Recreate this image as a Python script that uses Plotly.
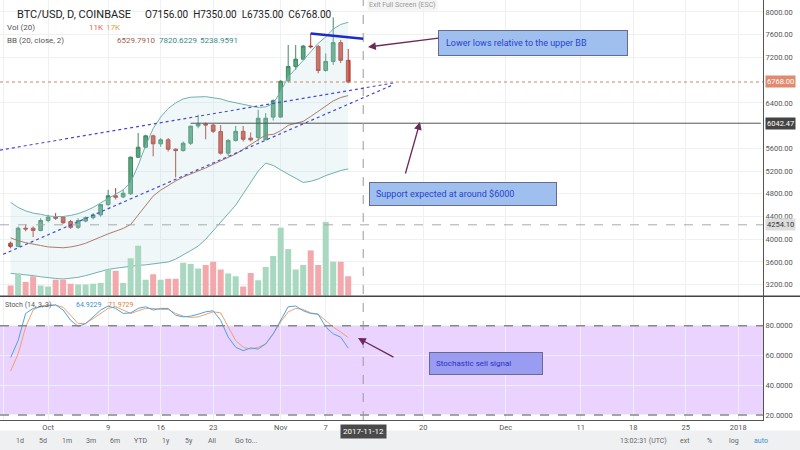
import pandas as pd
import plotly.graph_objects as go

# daily candles, 2017-09-26 .. 2017-11-10
dates = pd.date_range("2017-09-26", periods=46, freq="D")
opn = [3930, 3875, 4195, 4195, 4155, 4330, 4390, 4390, 4312, 4210, 4320, 4380, 4430, 4610, 4765, 4745, 4800, 5445, 5620, 5820, 5680, 5750,
       5585, 5560, 5690, 5995, 6030, 6010, 5895, 5515, 5740, 5900, 5780, 5790, 5750, 6150, 6150, 6790, 7040, 7170, 7400, 7390, 6970, 7130, 7460, 7150]
cls = [3875, 4195, 4180, 4155, 4330, 4390, 4370, 4290, 4210, 4330, 4380, 4430, 4610, 4765, 4740, 4810, 5445, 5620, 5820, 5680, 5750, 5585,
       5560, 5690, 5990, 6030, 6010, 5900, 5515, 5740, 5900, 5760, 5750, 6130, 6130, 6440, 6780, 7040, 7170, 7400, 7390, 6970, 7130, 7460, 7150, 6768]
hig = [3960, 4225, 4255, 4225, 4370, 4430, 4460, 4410, 4340, 4370, 4400, 4460, 4620, 4870, 4900, 4870, 5455, 5870, 5840, 5840, 5780, 5780,
       5600, 5720, 6000, 6190, 6055, 6030, 6010, 5760, 5995, 5995, 5880, 6280, 6220, 6460, 6800, 7420, 7420, 7420, 7625, 7420, 7270, 7905, 7510, 7350]
low = [3840, 3860, 4140, 4040, 4140, 4300, 4340, 4270, 4180, 4180, 4300, 4350, 4400, 4590, 4700, 4725, 4780, 5430, 5600, 5460, 5630, 5545,
       5090, 5545, 5660, 5955, 5760, 5870, 5490, 5460, 5720, 5720, 5720, 5720, 6070, 6090, 6410, 6760, 6980, 7150, 7360, 6920, 6950, 7070, 7100, 6745]
vol = [3.9, 8.5, 5.2, 7.4, 3.9, 3.5, 6.1, 6.1, 4.6, 4.3, 4.3, 4.6, 4.8, 10.0, 9.5, 4.8, 14.3, 19.1, 6.1, 8.2, 6.1, 6.5, 6.5, 12.6, 12.1, 10.4, 11.7,
       13.0, 10.0, 8.5, 7.4, 3.5, 8.7, 5.9, 11.0, 15.2, 26.0, 17.8, 10.0, 11.7, 17.3, 11.7, 28.2, 13.0, 13.0, 7.4]
bb_upper = [4650, 4560, 4500, 4460, 4440, 4410, 4400, 4400, 4420, 4450, 4500, 4560, 4640, 4720, 4800, 4870, 5000, 5300, 5650, 5950, 6150, 6300, 6400,
            6470, 6500, 6510, 6510, 6490, 6470, 6430, 6400, 6370, 6340, 6320, 6330, 6390, 6600, 6860, 7000, 7150, 7300, 7450, 7560, 7700, 7780, 7820]
bb_lower = [3400, 3390, 3380, 3360, 3340, 3320, 3310, 3300, 3310, 3330, 3360, 3400, 3440, 3470, 3490, 3510, 3520, 3540, 3550, 3570, 3580, 3600, 3650,
            3720, 3800, 3880, 4000, 4150, 4300, 4450, 4600, 4800, 5000, 5200, 5340, 5300, 5220, 5150, 5070, 5000, 5020, 5060, 5120, 5170, 5210, 5238]
stoch_k = [58.6, 70, 88.2, 91.6, 92.7, 93.2, 93.9, 90.5, 83.6, 79.5, 81.4, 85.9, 90.5, 93.2, 91.6, 88.2, 88.6, 91.6, 92.7, 90.5, 91.6, 91.6, 87,
           85.9, 86.4, 87.7, 89.3, 90, 83.6, 72.3, 65.5, 63.2, 65, 64.3, 67.7, 74.5, 83.6, 92.7, 93.2, 90, 88.2, 87.7, 79.1, 74.5, 72.3, 64.9]
stoch_d = [49.5, 61, 79, 90.5, 93.2, 93.9, 93.9, 92.3, 87, 81.4, 81.4, 84.8, 88.2, 91.6, 92.7, 90.5, 88.2, 90, 91.6, 91.6, 90.9, 90.9, 88.2,
           86.4, 85.5, 85.9, 87.7, 89.3, 88.6, 79.1, 70, 65.5, 64.3, 65.5, 67.7, 74.5, 82.5, 89.3, 91.6, 90.9, 88.6, 87.7, 83.6, 79.1, 75.7, 72.0]
price_ticks = [3200, 3600, 4000, 4400, 4800, 5200, 5600, 6400, 7200, 7600, 8000]

bb_mid = [(u + l) / 2 for u, l in zip(bb_upper, bb_lower)]
up = [c >= o for o, c in zip(opn, cls)]
vol_col = ["#a8d8c0" if u else "#f3a9ab" for u in up]

GRID = "#eef0f3"
fig = go.Figure()

fig.add_trace(go.Scatter(x=dates, y=bb_upper, mode="lines", line=dict(color="#70b0b0", width=1), yaxis="y", xaxis="x"))
fig.add_trace(go.Scatter(x=dates, y=bb_lower, mode="lines", line=dict(color="#70b0b0", width=1), fill="tonexty",
                         fillcolor="rgba(190,225,230,0.25)", yaxis="y", xaxis="x"))
fig.add_trace(go.Scatter(x=dates, y=bb_mid, mode="lines", line=dict(color="#b07b6a", width=1), yaxis="y", xaxis="x"))
fig.add_trace(go.Bar(x=dates, y=vol, marker=dict(color=vol_col, line_width=0), width=86400000 * 0.8, yaxis="y2", xaxis="x"))
fig.add_trace(go.Candlestick(x=dates, open=opn, high=hig, low=low, close=cls, yaxis="y", xaxis="x",
                             increasing=dict(line=dict(color="#3d8a64", width=1), fillcolor="#5aa57e"),
                             decreasing=dict(line=dict(color="#a83a30", width=1), fillcolor="#d0503f"),
                             whiskerwidth=0))
fig.add_trace(go.Scatter(x=dates, y=stoch_d, mode="lines", line=dict(color="#f0a070", width=1), yaxis="y3", xaxis="x2"))
fig.add_trace(go.Scatter(x=dates, y=stoch_k, mode="lines", line=dict(color="#4da3e0", width=1), yaxis="y3", xaxis="x2"))

xr = ["2017-09-24 14:00", "2018-01-04 07:00"]
tickv = ["2017-09-25", "2017-10-01", "2017-10-09", "2017-10-16", "2017-10-23", "2017-11-01", "2017-11-07", "2017-11-20",
         "2017-12-01", "2017-12-11", "2017-12-18", "2017-12-25", "2018-01-01"]
tickt = ["25", "Oct", "9", "16", "23", "Nov", "7", "20", "Dec", "11", "18", "25", "2018"]
axfont = dict(family="Roboto", size=7.5, color="#555")

fig.update_layout(
    width=800, height=450, margin=dict(l=0, r=37, t=0, b=30),
    paper_bgcolor="white", plot_bgcolor="white", showlegend=False,
    xaxis=dict(domain=[0, 1], range=xr, type="date", rangeslider=dict(visible=False), tickvals=tickv, ticktext=tickt,
               showticklabels=False, gridcolor=GRID, zeroline=False, anchor="y"),
    xaxis2=dict(domain=[0, 1], range=xr, type="date", tickvals=tickv, ticktext=tickt, tickfont=axfont,
                gridcolor=GRID, zeroline=False, anchor="y3", showline=True, linecolor="#555", ticks=""),
    yaxis=dict(domain=[0.296, 1], range=[3007, 8211], side="right", tickvals=price_ticks,
               tickformat=".2f", tickfont=axfont, gridcolor=GRID, zeroline=False, showline=True, linecolor="#555"),
    yaxis2=dict(domain=[0.296, 1], range=[0, 113], overlaying="y", visible=False),
    yaxis3=dict(domain=[0, 0.293], range=[16.6, 99.3], side="right", tickvals=[20, 40, 60, 80, 100],
                tickformat=".4f", tickfont=axfont, gridcolor=GRID, zeroline=False, showline=True, linecolor="#555"),
)

shapes = [
    dict(type="rect", xref="x2 domain", yref="y3", x0=0, x1=1, y0=20, y1=80, fillcolor="rgba(200,140,255,0.38)", line_width=0, layer="below"),
    dict(type="line", xref="x2 domain", yref="y3", x0=0, x1=1, y0=80, y1=80, line=dict(color="#888", width=1.5, dash="dash")),
    dict(type="line", xref="x2 domain", yref="y3", x0=0, x1=1, y0=20, y1=20, line=dict(color="#888", width=1.5, dash="dash")),
    dict(type="line", xref="paper", yref="paper", x0=0, x1=1.05, y0=0.2945, y1=0.2945, line=dict(color="#444", width=1.5)),
    dict(type="line", xref="x domain", yref="y", x0=0, x1=1, y0=6768, y1=6768, line=dict(color="#c9866a", width=1, dash="dot")),
    dict(type="line", xref="x", yref="y", x0="2017-10-20", x1="2018-01-04", y0=6042.47, y1=6042.47, line=dict(color="#555", width=1)),
    dict(type="line", xref="x domain", yref="y", x0=0, x1=1, y0=4254.1, y1=4254.1, line=dict(color="#aaa", width=1, dash="dash")),
    dict(type="line", xref="x", yref="paper", x0="2017-11-12", x1="2017-11-12", y0=0, y1=1, line=dict(color="#999", width=1, dash="dash")),
    dict(type="line", xref="x", yref="y", x0="2017-11-05", x1="2017-11-12", y0=7620, y1=7530, line=dict(color="#1a2ad0", width=2.5)),
    dict(type="line", xref="x", yref="y", x0="2017-09-24 14:00", x1="2017-11-16", y0=5570, y1=6750, line=dict(color="#4848d0", width=1.2, dash="dot")),
    dict(type="line", xref="x", yref="y", x0="2017-09-25", x1="2017-11-16", y0=3735, y1=6720, line=dict(color="#4848d0", width=1.2, dash="dot")),
    dict(type="rect", xref="paper", yref="paper", x0=-0.01, x1=1.06, y0=-0.075, y1=-0.025, fillcolor="#eef0f2", line_width=0, layer="below"),
]
fig.update_layout(shapes=shapes)

ann = []
def txt(x, y, s, color="#333", size=10, **kw):
    ann.append(dict(xref="paper", yref="paper", x=x / 763, y=1 - y / 420, text=s, showarrow=False,
                    xanchor="left", yanchor="middle", font=dict(family="Roboto", size=size, color=color), **kw))

txt(15, 15, "BTC/USD, D, COINBASE", "#222", 11)
txt(143, 15, "O7156.00  H7350.00  L6735.00  C6768.00", "#222", 10)
txt(5, 28, "Vol (20)", "#555", 8)
txt(87, 28, "11K", "#e06050", 8)
txt(104, 28, "17K", "#e0a040", 8)
txt(5, 40, "BB (20, close, 2)", "#555", 8)
txt(115, 40, "6529.7910", "#a06050", 8)
txt(157, 40, "7820.6229", "#3a8a8a", 8)
txt(198, 40, "5238.9591", "#3a8a8a", 8)
txt(3, 305, "Stoch (14, 3, 3)", "#555", 7)
txt(74, 305, "64.9229", "#3a90d0", 7)
txt(106, 305, "71.9729", "#e08040", 7)
txt(367, 5, "Exit Full Screen (ESC)", "#999", 7, bgcolor="#f4f4f4")
txt(438, 43, "Lower lows relative to the upper BB", "#2a40d0", 9, bgcolor="#9fc0ee", bordercolor="#6a6a90",
    borderpad=7, width=174, align="left")
txt(369, 194, "Support expected at around $6000", "#2a40d0", 9, bgcolor="#9fc0ee", bordercolor="#6a6a90",
    borderpad=6, width=174, align="left")
txt(429, 363, "Stochastic sell signal", "#2a30c0", 8, bgcolor="#9a9cf2", bordercolor="#6a6a90",
    borderpad=6, width=100, align="left")
ann.append(dict(xref="x", yref="paper", x="2017-11-12", y=-0.0095, text="2017-11-12", showarrow=False, yanchor="top",
                font=dict(family="Roboto", size=8, color="white"), bgcolor="#4a4a4a", borderpad=2))
for lab, y, c, bg in [("6768.00", 6768, "white", "#e08a70"), ("6042.47", 6042.47, "white", "#444"), ("4254.10", 4254.1, "#333", "#ddd")]:
    ann.append(dict(xref="paper", yref="y", x=1.003, y=y, text=lab, showarrow=False, xanchor="left",
                    font=dict(family="Roboto", size=7.5, color=c), bgcolor=bg, borderpad=1))
# arrows (tail offset in pixels)
for (x0, y0, x1, y1) in [(440, 38, 368, 47), (405, 175, 420, 122), (395, 358, 358, 338)]:
    ann.append(dict(xref="paper", yref="paper", x=x1 / 763, y=1 - y1 / 420, ax=x0 - x1, ay=y0 - y1,
                    text="", showarrow=True, arrowhead=2, arrowsize=1.2,
                    arrowwidth=1.3, arrowcolor="#6a2a5a"))
# bottom toolbar
for x, b in zip([14, 37, 60, 84, 108, 132, 160, 183, 206, 233], ["1d", "5d", "1m", "3m", "6m", "YTD", "1y", "5y", "All", "Go to..."]):
    ann.append(dict(xref="paper", yref="paper", x=x / 763, y=-0.05, text=b, showarrow=False, xanchor="left",
                    yanchor="middle", font=dict(family="Roboto", size=7, color="#666")))
for x, b in [(618, "13:02:31 (UTC)"), (678, "ext"), (705, "%"), (727, "log"), (752, "auto")]:
    ann.append(dict(xref="paper", yref="paper", x=x / 763, y=-0.05, text=b, showarrow=False, xanchor="left",
                    yanchor="middle", font=dict(family="Roboto", size=7, color="#3a90d0" if b == "auto" else "#666")))
fig.update_layout(annotations=ann)

fig.write_html("out.html", config={"displayModeBar": False}, post_script="document.body.style.margin='0';")
